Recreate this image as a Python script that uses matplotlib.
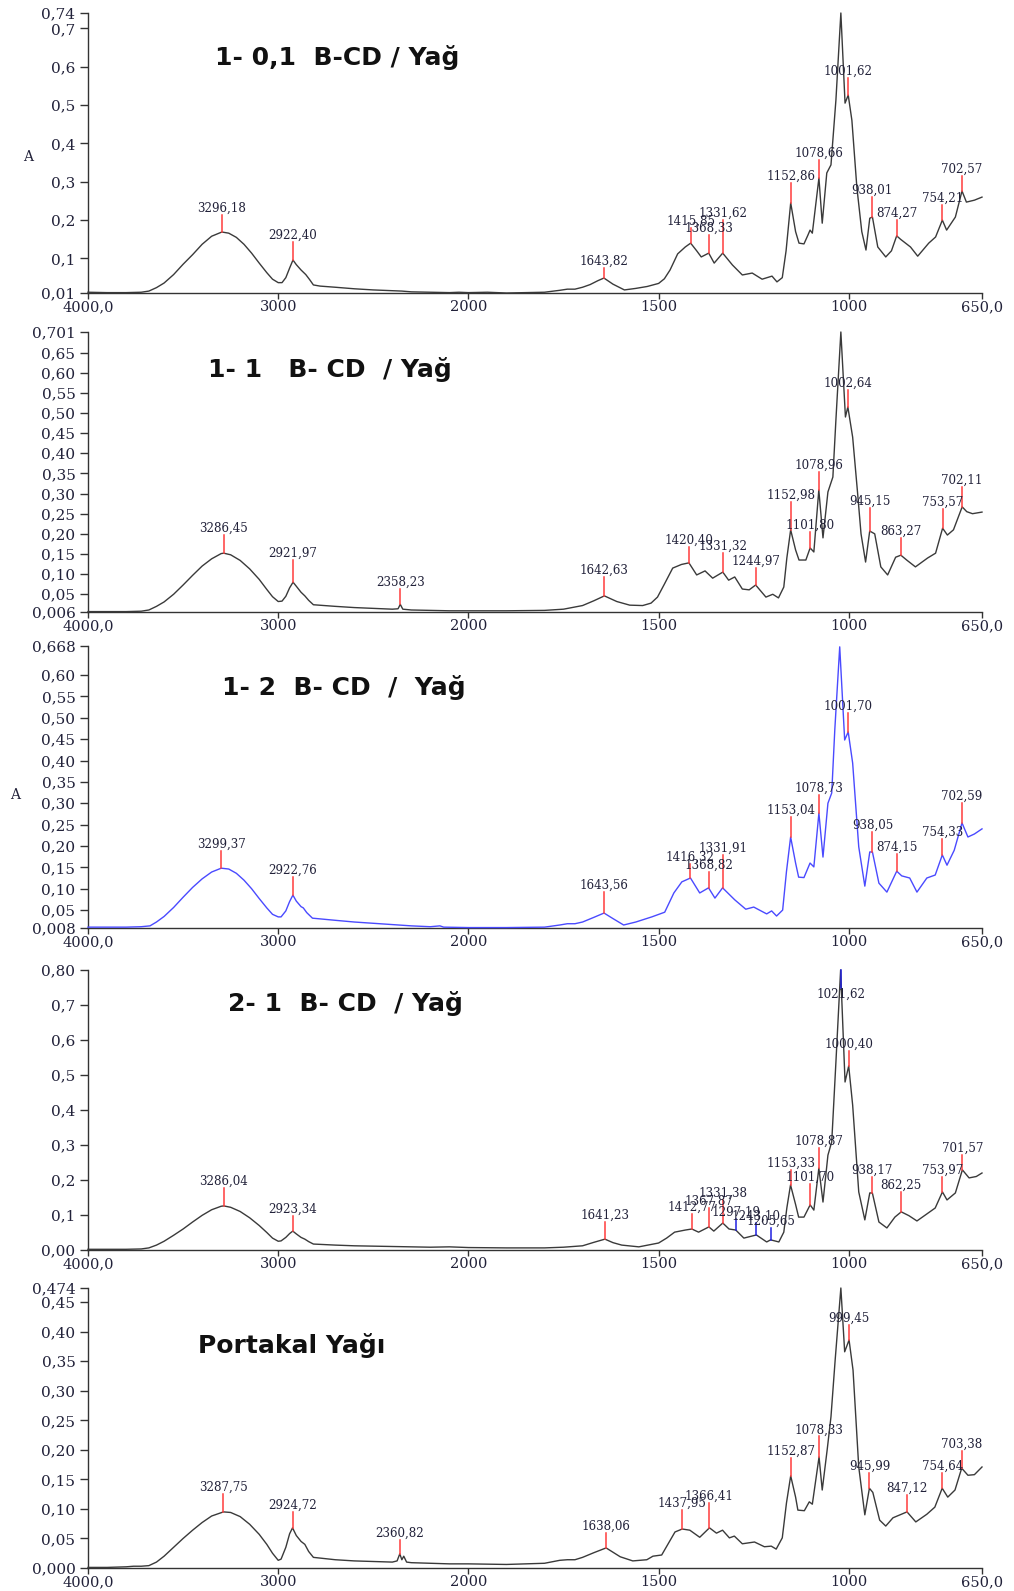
import matplotlib
matplotlib.use('Agg')
import matplotlib.pyplot as plt
import numpy as np

# --- spektrum verileri (dalga sayısı cm-1, absorbans) ---

wn_1 = [4000, 3900, 3800, 3720, 3680, 3640, 3600, 3550, 3500, 3450, 3400, 3350, 3296.18, 3260, 3220, 3180,
        3140, 3100, 3060, 3030, 3000, 2980, 2960, 2940, 2922.40, 2905, 2880, 2855, 2835, 2815, 2780, 2700,
        2600, 2500, 2400, 2350, 2300, 2200, 2100, 2050, 2000, 1950, 1900, 1850, 1800, 1760, 1740, 1720,
        1700, 1680, 1660, 1643.82, 1620, 1590, 1560, 1530, 1500, 1485, 1470, 1450, 1430, 1415.85, 1400,
        1388, 1368.33, 1354, 1331.62, 1306, 1280, 1254, 1228, 1202, 1189, 1175, 1165, 1152.86, 1140, 1131,
        1118, 1108, 1102, 1096, 1078.66, 1070, 1058, 1047, 1034, 1021, 1010, 1001.62, 992, 979, 966, 955,
        945, 938.01, 924, 903, 888, 874.27, 864, 838, 819, 790, 772, 754.21, 743, 720, 702.57, 691, 670, 650]
abs_1 = [0.012, 0.011, 0.011, 0.012, 0.015, 0.024, 0.036, 0.058, 0.085, 0.11, 0.137, 0.158, 0.169, 0.166,
         0.155, 0.137, 0.114, 0.088, 0.063, 0.046, 0.037, 0.037, 0.05, 0.075, 0.096, 0.084, 0.07, 0.058,
         0.045, 0.031, 0.028, 0.025, 0.021, 0.018, 0.016, 0.015, 0.013, 0.012, 0.011, 0.012, 0.011, 0.012,
         0.01, 0.011, 0.012, 0.017, 0.02, 0.02, 0.025, 0.032, 0.042, 0.049, 0.033, 0.018, 0.022, 0.027,
         0.035, 0.047, 0.07, 0.112, 0.13, 0.14, 0.12, 0.104, 0.114, 0.088, 0.114, 0.083, 0.057, 0.062, 0.046,
         0.054, 0.039, 0.05, 0.12, 0.245, 0.17, 0.14, 0.138, 0.16, 0.174, 0.166, 0.31, 0.192, 0.323, 0.344,
         0.513, 0.74, 0.505, 0.526, 0.46, 0.286, 0.17, 0.122, 0.205, 0.208, 0.13, 0.104, 0.12, 0.159, 0.15,
         0.13, 0.106, 0.14, 0.156, 0.2, 0.174, 0.208, 0.276, 0.247, 0.252, 0.26]

wn_2 = [4000, 3800, 3720, 3680, 3640, 3600, 3550, 3500, 3450, 3400, 3350, 3300, 3286.45, 3250, 3200, 3150,
        3100, 3060, 3030, 3000, 2980, 2960, 2940, 2921.97, 2905, 2880, 2860, 2840, 2815, 2700, 2600, 2500,
        2400, 2370, 2358.23, 2345, 2300, 2200, 2100, 2000, 1900, 1800, 1750, 1700, 1670, 1642.63, 1610,
        1576, 1542, 1520, 1503, 1485, 1463, 1440, 1420.40, 1400, 1378, 1358, 1331.32, 1316, 1300, 1280,
        1262, 1244.97, 1218, 1200, 1185, 1171, 1163, 1152.98, 1140, 1131, 1113, 1101.80, 1092, 1078.96,
        1068, 1055, 1042, 1034, 1021, 1009, 1002.64, 990, 977, 968, 956, 945.15, 932, 916, 898, 877, 863.27,
        848, 825, 793, 772, 753.57, 741, 725, 702.11, 690, 675, 650]
abs_2 = [0.007, 0.007, 0.008, 0.011, 0.02, 0.031, 0.05, 0.073, 0.097, 0.12, 0.138, 0.151, 0.152, 0.148,
         0.134, 0.113, 0.087, 0.062, 0.044, 0.032, 0.033, 0.045, 0.066, 0.08, 0.07, 0.055, 0.046, 0.035,
         0.024, 0.02, 0.017, 0.015, 0.013, 0.014, 0.025, 0.013, 0.011, 0.01, 0.009, 0.009, 0.009, 0.01,
         0.013, 0.022, 0.034, 0.046, 0.032, 0.023, 0.022, 0.028, 0.043, 0.075, 0.115, 0.124, 0.128, 0.098,
         0.108, 0.09, 0.105, 0.085, 0.093, 0.063, 0.061, 0.073, 0.043, 0.05, 0.041, 0.068, 0.14, 0.21, 0.16,
         0.135, 0.135, 0.165, 0.155, 0.309, 0.19, 0.304, 0.341, 0.483, 0.701, 0.49, 0.515, 0.44, 0.301, 0.2,
         0.13, 0.207, 0.2, 0.118, 0.098, 0.142, 0.147, 0.135, 0.118, 0.14, 0.152, 0.214, 0.197, 0.21, 0.267,
         0.255, 0.25, 0.254]

wn_3 = [4000, 3800, 3720, 3674, 3640, 3600, 3550, 3500, 3450, 3400, 3350, 3299.37, 3260, 3220, 3180, 3140,
        3100, 3060, 3030, 3000, 2985, 2960, 2940, 2922.76, 2905, 2880, 2868, 2850, 2820, 2700, 2600, 2500,
        2400, 2300, 2200, 2150, 2130, 2000, 1900, 1800, 1760, 1740, 1720, 1700, 1670, 1643.56, 1620, 1592,
        1560, 1518, 1484, 1460, 1439, 1416.32, 1392, 1368.82, 1352, 1331.91, 1300, 1271, 1250, 1216, 1203,
        1190, 1174, 1164, 1153.04, 1140, 1132, 1118, 1102, 1092, 1078.73, 1068, 1055, 1045, 1037, 1024,
        1011, 1001.70, 990, 974, 958, 945, 938.05, 921, 900, 874.15, 861, 840, 821, 795, 773, 754.33, 742,
        723, 702.59, 687, 670, 650]
abs_3 = [0.01, 0.01, 0.011, 0.013, 0.022, 0.035, 0.056, 0.08, 0.103, 0.123, 0.139, 0.148, 0.146, 0.136,
         0.12, 0.1, 0.077, 0.055, 0.04, 0.034, 0.034, 0.048, 0.07, 0.085, 0.071, 0.058, 0.055, 0.044, 0.031,
         0.026, 0.022, 0.019, 0.016, 0.013, 0.011, 0.013, 0.01, 0.009, 0.009, 0.01, 0.015, 0.018, 0.018,
         0.022, 0.033, 0.043, 0.03, 0.015, 0.022, 0.034, 0.045, 0.09, 0.116, 0.125, 0.09, 0.102, 0.078,
         0.102, 0.074, 0.052, 0.057, 0.041, 0.048, 0.036, 0.05, 0.14, 0.221, 0.16, 0.127, 0.126, 0.16, 0.151,
         0.277, 0.174, 0.3, 0.324, 0.471, 0.666, 0.448, 0.467, 0.394, 0.198, 0.106, 0.186, 0.186, 0.113,
         0.092, 0.141, 0.13, 0.125, 0.092, 0.125, 0.132, 0.179, 0.155, 0.19, 0.254, 0.221, 0.228, 0.24]

wn_4 = [4000, 3800, 3720, 3680, 3640, 3600, 3550, 3500, 3450, 3400, 3350, 3300, 3286.04, 3250, 3200, 3150,
        3100, 3060, 3030, 3000, 2985, 2960, 2940, 2923.34, 2905, 2880, 2860, 2840, 2815, 2700, 2600, 2500,
        2400, 2300, 2200, 2100, 2000, 1900, 1800, 1750, 1700, 1670, 1641.23, 1620, 1597, 1552, 1500, 1479,
        1458, 1430, 1412.77, 1395, 1367.87, 1355, 1331.38, 1315, 1297.19, 1276, 1243.10, 1216, 1205.65,
        1184, 1171, 1163, 1153.33, 1140, 1132, 1118, 1101.70, 1092, 1078.87, 1068, 1055, 1045, 1034,
        1021.62, 1010, 1000.40, 990, 974, 958, 945, 938.17, 921, 900, 879, 862.25, 842, 821, 795, 773,
        753.97, 742, 720, 701.57, 684, 665, 650]
abs_4 = [0.002, 0.002, 0.003, 0.006, 0.014, 0.025, 0.042, 0.06, 0.08, 0.099, 0.115, 0.125, 0.126, 0.122,
         0.11, 0.092, 0.07, 0.05, 0.034, 0.025, 0.026, 0.036, 0.047, 0.054, 0.046, 0.036, 0.031, 0.024,
         0.017, 0.014, 0.012, 0.011, 0.01, 0.009, 0.008, 0.009, 0.007, 0.006, 0.006, 0.008, 0.012, 0.022,
         0.031, 0.021, 0.014, 0.009, 0.02, 0.034, 0.051, 0.057, 0.06, 0.051, 0.066, 0.054, 0.077, 0.06,
         0.057, 0.034, 0.043, 0.023, 0.029, 0.023, 0.051, 0.12, 0.186, 0.13, 0.094, 0.094, 0.129, 0.114,
         0.234, 0.137, 0.271, 0.309, 0.537, 0.8, 0.48, 0.526, 0.414, 0.166, 0.086, 0.163, 0.163, 0.08, 0.063,
         0.094, 0.109, 0.098, 0.083, 0.103, 0.12, 0.166, 0.143, 0.163, 0.229, 0.206, 0.21, 0.22]

wn_5 = [4000, 3900, 3800, 3760, 3720, 3680, 3640, 3600, 3550, 3500, 3450, 3400, 3350, 3287.75, 3250, 3200,
        3150, 3100, 3060, 3030, 3000, 2985, 2960, 2940, 2924.72, 2905, 2880, 2860, 2840, 2815, 2700, 2600,
        2500, 2400, 2375, 2360.82, 2350, 2340, 2325, 2300, 2200, 2100, 2000, 1900, 1800, 1760, 1740, 1720,
        1700, 1670, 1638.06, 1601, 1568, 1531, 1515, 1492, 1457, 1437.95, 1418, 1392, 1366.41, 1348, 1332,
        1314, 1301, 1280, 1248, 1222, 1204, 1191, 1175, 1164, 1152.87, 1140, 1134, 1117, 1104, 1096,
        1078.33, 1070, 1057, 1047, 1036, 1021, 1011, 999.45, 989, 974, 958, 945.99, 937, 919, 903, 884,
        847.12, 824, 795, 774, 754.64, 740, 721, 703.38, 687, 670, 650]
abs_5 = [0.001, 0.001, 0.002, 0.003, 0.003, 0.004, 0.01, 0.02, 0.035, 0.05, 0.064, 0.077, 0.088, 0.095,
         0.094, 0.087, 0.074, 0.057, 0.04, 0.025, 0.013, 0.015, 0.035, 0.058, 0.068, 0.055, 0.045, 0.04,
         0.028, 0.018, 0.014, 0.012, 0.011, 0.01, 0.012, 0.024, 0.014, 0.02, 0.01, 0.009, 0.008, 0.007,
         0.007, 0.006, 0.008, 0.013, 0.014, 0.014, 0.018, 0.026, 0.034, 0.019, 0.012, 0.014, 0.02, 0.022,
         0.061, 0.066, 0.064, 0.052, 0.068, 0.059, 0.064, 0.051, 0.054, 0.041, 0.044, 0.036, 0.037, 0.032,
         0.051, 0.11, 0.156, 0.12, 0.098, 0.097, 0.112, 0.108, 0.188, 0.132, 0.2, 0.256, 0.352, 0.474, 0.366,
         0.386, 0.335, 0.171, 0.09, 0.135, 0.128, 0.081, 0.071, 0.085, 0.095, 0.078, 0.091, 0.103, 0.135,
         0.12, 0.132, 0.169, 0.157, 0.158, 0.171]

# işaretlenen pikler
peaks_1 = [3296.18, 2922.40, 1643.82, 1415.85, 1368.33, 1331.62, 1152.86, 1078.66, 1001.62, 938.01, 874.27, 754.21, 702.57]
peaks_2 = [3286.45, 2921.97, 2358.23, 1642.63, 1420.40, 1331.32, 1244.97, 1152.98, 1101.80, 1078.96, 1002.64, 945.15, 863.27, 753.57, 702.11]
peaks_3 = [3299.37, 2922.76, 1643.56, 1416.32, 1368.82, 1331.91, 1153.04, 1078.73, 1001.70, 938.05, 874.15, 754.33, 702.59]
peaks_4 = [3286.04, 2923.34, 1641.23, 1412.77, 1367.87, 1331.38, 1297.19, 1243.10, 1205.65, 1153.33, 1101.70, 1078.87, 1021.62, 1000.40, 938.17, 862.25, 753.97, 701.57]
peaks_5 = [3287.75, 2924.72, 2360.82, 1638.06, 1437.95, 1366.41, 1152.87, 1078.33, 999.45, 945.99, 847.12, 754.64, 703.38]

titles = ['1- 0,1  B-CD / Yağ', '1- 1   B- CD  / Yağ', '1- 2  B- CD  /  Yağ', '2- 1  B- CD  / Yağ', 'Portakal Yağı']

x_ticks = [4000, 3000, 2000, 1500, 1000, 650]
x_labels = ['4000,0', '3000', '2000', '1500', '1000', '650,0']

y_ticks_1 = [0.01, 0.1, 0.2, 0.3, 0.4, 0.5, 0.6, 0.7, 0.74]
y_labels_1 = ['0,01', '0,1', '0,2', '0,3', '0,4', '0,5', '0,6', '0,7', '0,74']
y_ticks_2 = [0.006, 0.05, 0.10, 0.15, 0.20, 0.25, 0.30, 0.35, 0.40, 0.45, 0.50, 0.55, 0.60, 0.65, 0.701]
y_labels_2 = ['0,006', '0,05', '0,10', '0,15', '0,20', '0,25', '0,30', '0,35', '0,40', '0,45', '0,50', '0,55', '0,60', '0,65', '0,701']
y_ticks_3 = [0.008, 0.05, 0.10, 0.15, 0.20, 0.25, 0.30, 0.35, 0.40, 0.45, 0.50, 0.55, 0.60, 0.668]
y_labels_3 = ['0,008', '0,05', '0,10', '0,15', '0,20', '0,25', '0,30', '0,35', '0,40', '0,45', '0,50', '0,55', '0,60', '0,668']
y_ticks_4 = [0.0, 0.1, 0.2, 0.3, 0.4, 0.5, 0.6, 0.7, 0.8]
y_labels_4 = ['0,00', '0,1', '0,2', '0,3', '0,4', '0,5', '0,6', '0,7', '0,80']
y_ticks_5 = [0.0, 0.05, 0.10, 0.15, 0.20, 0.25, 0.30, 0.35, 0.40, 0.45, 0.474]
y_labels_5 = ['0,000', '0,05', '0,10', '0,15', '0,20', '0,25', '0,30', '0,35', '0,40', '0,45', '0,474']

# --- yerleşim (piksel) ---
W, H = 1014, 1591
AX_LEFT, AX_RIGHT = 88, 982
panel_rows = [(13, 293), (332, 612), (646, 928), (970, 1250), (1288, 1568)]
title_pos = [(215, 58), (208, 370), (222, 687), (228, 1003), (198, 1346)]

# etiket çizgilerinin üst ucu (absorbans)
label_top_1 = [0.213, 0.143, 0.075, 0.18, 0.161, 0.2, 0.297, 0.357, 0.57, 0.26, 0.2, 0.239, 0.315]
label_top_2 = [0.197, 0.135, 0.063, 0.093, 0.167, 0.152, 0.115, 0.279, 0.205, 0.353, 0.557, 0.264, 0.19, 0.262, 0.316]
label_top_3 = [0.188, 0.127, 0.092, 0.158, 0.14, 0.179, 0.268, 0.319, 0.511, 0.233, 0.181, 0.216, 0.3]
label_top_4 = [0.177, 0.097, 0.08, 0.103, 0.12, 0.143, 0.089, 0.077, 0.063, 0.229, 0.189, 0.291, 0.749, 0.569, 0.209, 0.166, 0.209, 0.271]
label_top_5 = [0.125, 0.095, 0.047, 0.059, 0.098, 0.11, 0.186, 0.223, 0.411, 0.161, 0.124, 0.161, 0.198]

blue_marks_4 = [1297.19, 1243.10, 1205.65, 1021.62]

panels = [
    (wn_1, abs_1, peaks_1, label_top_1, y_ticks_1, y_labels_1, '#3a3a3a', []),
    (wn_2, abs_2, peaks_2, label_top_2, y_ticks_2, y_labels_2, '#3a3a3a', []),
    (wn_3, abs_3, peaks_3, label_top_3, y_ticks_3, y_labels_3, '#4a4aff', []),
    (wn_4, abs_4, peaks_4, label_top_4, y_ticks_4, y_labels_4, '#3a3a3a', blue_marks_4),
    (wn_5, abs_5, peaks_5, label_top_5, y_ticks_5, y_labels_5, '#3a3a3a', []),
]


# 2000 cm-1 altında eksen iki kat genişler
def fwd(x):
    x = np.asarray(x, dtype=float)
    return np.where(x >= 2000, x, 2 * x - 2000)


def inv(u):
    u = np.asarray(u, dtype=float)
    return np.where(u >= 2000, u, (u + 2000) / 2)


def fmt(v):
    return f'{v:.2f}'.replace('.', ',')


serif = 'DejaVu Serif'
text_col = '#22223a'
axis_col = '#333333'

fig = plt.figure(figsize=(W / 100, H / 100), dpi=100)
fig.patch.set_facecolor('white')

for i, (wn, ab, peaks, tops, yt, yl, col, blues) in enumerate(panels):
    top_px, bot_px = panel_rows[i]
    ax = fig.add_axes([AX_LEFT / W, 1 - bot_px / H, (AX_RIGHT - AX_LEFT) / W, (bot_px - top_px) / H])
    ax.set_xscale('function', functions=(fwd, inv))
    ax.set_xlim(4000, 650)
    ax.set_ylim(yt[0], yt[-1])

    ax.plot(wn, ab, color=col, lw=1.0, clip_on=False, zorder=3)

    wn_asc = np.array(wn)[::-1]
    ab_asc = np.array(ab)[::-1]
    for p, t in zip(peaks, tops):
        y_c = np.interp(p, wn_asc, ab_asc)
        mark_col = '#2020e0' if p in blues else '#ff3c3c'
        ax.plot([p, p], [y_c, t], color=mark_col, lw=1.1, zorder=4, clip_on=False)
        va = 'bottom' if t >= y_c else 'top'
        ax.text(p, t, fmt(p), ha='center', va=va, fontsize=8.6, family=serif,
                color=text_col, zorder=5)

    for s in ['top', 'right']:
        ax.spines[s].set_visible(False)
    for s in ['left', 'bottom']:
        ax.spines[s].set_color(axis_col)
        ax.spines[s].set_linewidth(1.0)

    ax.set_xticks(x_ticks)
    ax.set_xticklabels(x_labels)
    ax.xaxis.set_minor_locator(matplotlib.ticker.NullLocator())
    ax.set_yticks(yt)
    ax.set_yticklabels(yl)
    ax.tick_params(axis='y', direction='out', color=axis_col, labelcolor=text_col,
                   labelsize=11, length=6, width=1, pad=3)
    ax.tick_params(axis='x', direction='out', color=axis_col, labelcolor=text_col,
                   labelsize=10.5, length=4, width=1, pad=1)
    for lab in ax.get_xticklabels() + ax.get_yticklabels():
        lab.set_family(serif)

    tx, ty = title_pos[i]
    fig.text(tx / W, 1 - ty / H, titles[i], ha='left', va='center', fontsize=18,
             fontweight='bold', family='DejaVu Sans', color='#111111')

# eksen adı
fig.text(28 / W, 1 - 157 / H, 'A', ha='center', va='center', fontsize=10, family=serif, color=text_col)
fig.text(15 / W, 1 - 795 / H, 'A', ha='center', va='center', fontsize=10, family=serif, color=text_col)

fig.savefig('out.png', dpi=100, facecolor=fig.get_facecolor())
plt.close(fig)
